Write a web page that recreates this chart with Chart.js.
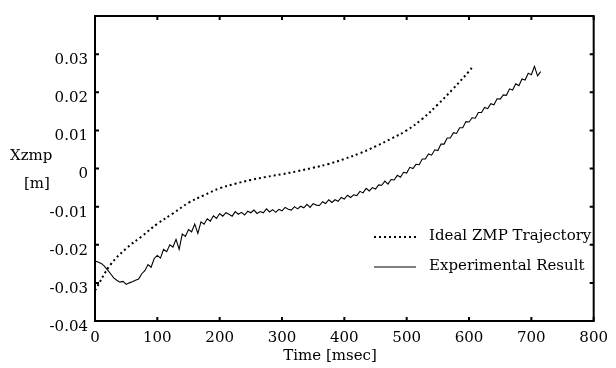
<!DOCTYPE html>
<html>
<head>
<meta charset="utf-8">
<script src="https://cdn.jsdelivr.net/npm/chart.js@4.4.1/dist/chart.umd.min.js"></script>
<style>
  html, body { margin: 0; padding: 0; background: #fff; }
  #wrap { width: 616px; height: 368px; position: relative; }
</style>
</head>
<body>
<div id="wrap"><canvas id="c" width="616" height="368"></canvas></div>
<script>
// ---- Data ----
const idealTime = [0, 25, 50, 75, 100, 125, 150, 175, 200, 225, 250, 275, 300, 325, 350, 375, 400, 425, 450, 475, 500, 525, 550, 575, 600, 607];
const idealZmp  = [-0.0320, -0.0252, -0.0210, -0.0178, -0.0145, -0.0118, -0.0090, -0.0070, -0.0052, -0.0040, -0.0030, -0.0022, -0.0015, -0.0007, 0.0002, 0.0012, 0.0025, 0.0040, 0.0058, 0.0078, 0.0100, 0.0130, 0.0168, 0.0210, 0.0255, 0.0270];

const expTime = [0,5,10,15,20,25,30,35,40,45,50,55,60,65,70,75,80,85,90,95,
  100,105,110,115,120,125,130,135,140,145,150,155,160,165,170,175,180,185,190,195,
  200,205,210,215,220,225,230,235,240,245,250,255,260,265,270,275,280,285,290,295,
  300,305,310,315,320,325,330,335,340,345,350,355,360,365,370,375,380,385,390,395,
  400,405,410,415,420,425,430,435,440,445,450,455,460,465,470,475,480,485,490,495,
  500,505,510,515,520,525,530,535,540,545,550,555,560,565,570,575,580,585,590,595,
  600,605,610,615,620,625,630,635,640,645,650,655,660,665,670,675,680,685,690,695,
  700,705,710,715];
const expZmp = [
  -0.0243,-0.0245,-0.0249,-0.0256,-0.0266,-0.0276,-0.0287,-0.0293,-0.0298,-0.0296,
  -0.0304,-0.0300,-0.0297,-0.0293,-0.0290,-0.0276,-0.0268,-0.0252,-0.0259,-0.0236,
  -0.0228,-0.0235,-0.0212,-0.0218,-0.0200,-0.0206,-0.0186,-0.0212,-0.0172,-0.0178,
  -0.0160,-0.0166,-0.0146,-0.0170,-0.0140,-0.0146,-0.0132,-0.0138,-0.0124,-0.0131,
  -0.0118,-0.0125,-0.0116,-0.0120,-0.0125,-0.0113,-0.0120,-0.0115,-0.0122,-0.0112,
  -0.0116,-0.0109,-0.0118,-0.0113,-0.0116,-0.0106,-0.0114,-0.0108,-0.0115,-0.0107,
  -0.0111,-0.0102,-0.0107,-0.0109,-0.0100,-0.0106,-0.0099,-0.0103,-0.0094,-0.0102,
  -0.0092,-0.0096,-0.0097,-0.0087,-0.0092,-0.0082,-0.0089,-0.0082,-0.0086,-0.0076,
  -0.0080,-0.0070,-0.0076,-0.0069,-0.0071,-0.0060,-0.0064,-0.0052,-0.0059,-0.0050,
  -0.0054,-0.0043,-0.0044,-0.0033,-0.0041,-0.0029,-0.0030,-0.0018,-0.0023,-0.0010,
  -0.0012,0.0003,0.0000,0.0011,0.0010,0.0025,0.0025,0.0038,0.0035,0.0049,
  0.0047,0.0064,0.0064,0.0080,0.0080,0.0094,0.0092,0.0107,0.0107,0.0123,
  0.0122,0.0133,0.0132,0.0147,0.0147,0.0160,0.0157,0.0170,0.0167,0.0183,
  0.0182,0.0193,0.0192,0.0209,0.0206,0.0222,0.0217,0.0235,0.0232,0.0250,
  0.0246,0.0268,0.0243,0.0254];

const xTickValues = [0, 100, 200, 300, 400, 500, 600, 700, 800];
const yTickValues = [-0.04, -0.03, -0.02, -0.01, 0, 0.01, 0.02, 0.03];
const seriesNames = ['Ideal ZMP Trajectory', 'Experimental Result'];
const xTitle = 'Time [msec]';
const yTitleLines = ['Xzmp', '[m]'];

const FONT = '"DejaVu Serif", serif';
const DOT_DASH = [2, 3];

const framePlugin = {
  id: 'frame',
  afterDraw(chart) {
    const ctx = chart.ctx;
    const a = chart.chartArea;
    const xs = chart.scales.x, ys = chart.scales.y;
    ctx.save();
    ctx.strokeStyle = '#000';
    ctx.lineWidth = 2;
    ctx.setLineDash([]);
    ctx.strokeRect(a.left, a.top, a.right - a.left, a.bottom - a.top);
    const tl = 4;
    ctx.beginPath();
    xs.ticks.forEach(t => {
      const px = xs.getPixelForValue(t.value);
      ctx.moveTo(px, a.bottom); ctx.lineTo(px, a.bottom - tl);
      ctx.moveTo(px, a.top); ctx.lineTo(px, a.top + tl);
    });
    ys.ticks.forEach(t => {
      const py = ys.getPixelForValue(t.value);
      ctx.moveTo(a.left, py); ctx.lineTo(a.left + tl, py);
      ctx.moveTo(a.right, py); ctx.lineTo(a.right - tl, py);
    });
    ctx.stroke();

    ctx.fillStyle = '#000';
    ctx.font = '15px ' + FONT;
    ctx.textBaseline = 'middle';
    ctx.textAlign = 'left';
    ctx.fillText(yTitleLines[0], 10, 156);
    ctx.fillText(yTitleLines[1], 24, 184);
    ctx.textAlign = 'center';
    ctx.fillText(xTitle, 330, 356);

    // legend
    const ds = chart.data.datasets;
    const rows = [237, 267];
    ds.forEach((d, i) => {
      const y = rows[i];
      ctx.beginPath();
      ctx.lineWidth = d.borderWidth;
      ctx.setLineDash(d.borderDash || []);
      ctx.moveTo(374, y); ctx.lineTo(416, y);
      ctx.stroke();
      ctx.setLineDash([]);
      ctx.textAlign = 'left';
      ctx.fillText(d.label, 429, y - 1);
    });
    ctx.restore();
  }
};

new Chart(document.getElementById('c'), {
  type: 'line',
  data: {
    datasets: [
      {
        label: seriesNames[0],
        data: idealTime.map((t, i) => ({ x: t, y: idealZmp[i] })),
        borderColor: '#000',
        borderWidth: 2,
        borderDash: DOT_DASH,
        borderCapStyle: 'butt',
        pointRadius: 0,
        tension: 0.4,
        fill: false
      },
      {
        label: seriesNames[1],
        data: expTime.map((t, i) => ({ x: t, y: expZmp[i] })),
        borderColor: '#000',
        borderWidth: 1.1,
        pointRadius: 0,
        tension: 0,
        fill: false
      }
    ]
  },
  options: {
    responsive: false,
    animation: false,
    layout: { padding: { left: 0, right: 17, top: 13, bottom: 0 } },
    plugins: { legend: { display: false }, tooltip: { enabled: false }, title: { display: false } },
    scales: {
      x: {
        type: 'linear', min: 0, max: 800,
        grid: { display: false, drawTicks: false },
        border: { display: false },
        afterFit(s) { s.height = 47; },
        afterBuildTicks(s) { s.ticks = xTickValues.map(v => ({ value: v })); },
        ticks: {
          color: '#000', padding: 8, maxRotation: 0, autoSkip: false,
          font: { family: FONT, size: 15 },
          callback: v => String(v)
        }
      },
      y: {
        type: 'linear', min: -0.04, max: 0.04,
        grid: { display: false, drawTicks: false },
        border: { display: false },
        afterFit(s) { s.width = 95; },
        afterBuildTicks(s) { s.ticks = yTickValues.map(v => ({ value: v })); },
        ticks: {
          color: '#000', padding: 7, autoSkip: false, labelOffset: 6,
          font: { family: FONT, size: 15 },
          callback: v => Math.abs(v) < 1e-9 ? '0' : v.toFixed(2)
        }
      }
    }
  },
  plugins: [framePlugin]
});
</script>
</body>
</html>
